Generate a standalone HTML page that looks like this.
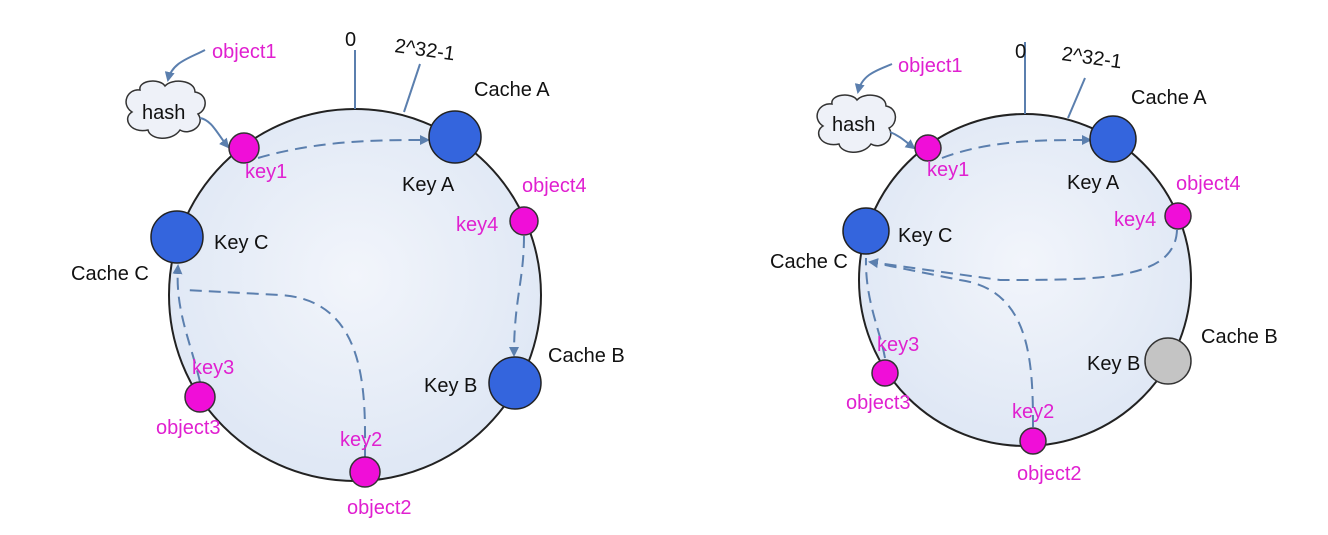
<!DOCTYPE html>
<html><head><meta charset="utf-8"><style>
html,body{margin:0;padding:0;background:#fff;}
svg text{font-family:"Liberation Sans",sans-serif;font-size:20px;}
.k{fill:#e020d0;}
.b{fill:#111;}
</style></head><body>
<svg width="1328" height="530" viewBox="0 0 1328 530" xmlns="http://www.w3.org/2000/svg">
<defs>
<marker id="ar" markerWidth="10" markerHeight="10" refX="8" refY="5" orient="auto" markerUnits="userSpaceOnUse">
<path d="M0,0 L10,5 L0,10 Z" fill="#5b7fae"/></marker>
<radialGradient id="g" cx="50%" cy="45%" r="60%"><stop offset="0" stop-color="#f2f5fb"/><stop offset="1" stop-color="#dde6f4"/></radialGradient>
</defs>

<!-- LEFT -->
<circle cx="355" cy="295" r="186" fill="url(#g)" stroke="#222" stroke-width="2"/>
<line x1="355" y1="50" x2="355" y2="109" stroke="#5b7fae" stroke-width="2"/>
<line x1="420" y1="64" x2="404" y2="112" stroke="#5b7fae" stroke-width="2"/>
<text x="345" y="46" class="b" font-size="23">0</text>
<text x="394" y="52" class="b" font-size="21" transform="rotate(8 394 52)">2^32-1</text>
<text x="474" y="96" class="b">Cache A</text>
<text x="212" y="58" class="k">object1</text>
<path d="M205,50 C190,58 172,62 168,80" fill="none" stroke="#5b7fae" stroke-width="2" marker-end="url(#ar)"/>
<path d="M140,90 C138,80 160,78 165,86 C172,78 195,80 195,92 C208,94 208,110 198,114 C206,125 190,136 180,130 C172,142 150,140 148,130 C130,134 122,118 132,112 C120,104 128,88 140,90 Z" fill="#eef1f8" stroke="#333" stroke-width="1.5"/>
<text x="142" y="119" class="b">hash</text>
<path d="M200,118 C212,120 218,135 228,147" fill="none" stroke="#5b7fae" stroke-width="2" marker-end="url(#ar)"/>
<path d="M258,158 C320,140 380,140 428,140" fill="none" stroke="#5b7fae" stroke-width="2" stroke-dasharray="12,7" marker-end="url(#ar)"/>
<path d="M524,236 C524,280 514,300 514,355" fill="none" stroke="#5b7fae" stroke-width="2" stroke-dasharray="12,7" marker-end="url(#ar)"/>
<path d="M200,382 C190,340 175,310 178,266" fill="none" stroke="#5b7fae" stroke-width="2" stroke-dasharray="12,7" marker-end="url(#ar)"/>
<path d="M365,457 C365,400 370,300 280,295 L185,290" fill="none" stroke="#5b7fae" stroke-width="2" stroke-dasharray="12,7"/>
<circle cx="244" cy="148" r="15" fill="#f00ed8" stroke="#333" stroke-width="1.5"/>
<circle cx="455" cy="137" r="26" fill="#3465dd" stroke="#222" stroke-width="1.5"/>
<circle cx="524" cy="221" r="14" fill="#f00ed8" stroke="#333" stroke-width="1.5"/>
<circle cx="177" cy="237" r="26" fill="#3465dd" stroke="#222" stroke-width="1.5"/>
<circle cx="515" cy="383" r="26" fill="#3465dd" stroke="#222" stroke-width="1.5"/>
<circle cx="200" cy="397" r="15" fill="#f00ed8" stroke="#333" stroke-width="1.5"/>
<circle cx="365" cy="472" r="15" fill="#f00ed8" stroke="#333" stroke-width="1.5"/>
<text x="245" y="178" class="k">key1</text>
<text x="402" y="191" class="b">Key A</text>
<text x="522" y="192" class="k">object4</text>
<text x="456" y="231" class="k">key4</text>
<text x="214" y="249" class="b">Key C</text>
<text x="71" y="280" class="b">Cache C</text>
<text x="548" y="362" class="b">Cache B</text>
<text x="424" y="392" class="b">Key B</text>
<text x="192" y="374" class="k">key3</text>
<text x="156" y="434" class="k">object3</text>
<text x="340" y="446" class="k">key2</text>
<text x="347" y="514" class="k">object2</text>

<!-- RIGHT -->
<circle cx="1025" cy="280" r="166" fill="url(#g)" stroke="#222" stroke-width="2"/>
<line x1="1025" y1="42" x2="1025" y2="114" stroke="#5b7fae" stroke-width="2"/>
<line x1="1085" y1="78" x2="1068" y2="118" stroke="#5b7fae" stroke-width="2"/>
<text x="1015" y="58" class="b" font-size="23">0</text>
<text x="1061" y="60" class="b" font-size="21" transform="rotate(8 1061 60)">2^32-1</text>
<text x="1131" y="104" class="b">Cache A</text>
<text x="898" y="72" class="k">object1</text>
<path d="M892,64 C878,70 862,74 858,92" fill="none" stroke="#5b7fae" stroke-width="2" marker-end="url(#ar)"/>
<path d="M832,104 C830,94 852,92 857,100 C864,92 886,94 886,106 C898,108 898,124 889,128 C896,139 881,150 871,144 C863,156 841,154 839,144 C821,148 813,132 823,126 C811,118 819,102 832,104 Z" fill="#eef1f8" stroke="#333" stroke-width="1.5"/>
<text x="832" y="131" class="b">hash</text>
<path d="M890,132 C900,136 906,142 914,148" fill="none" stroke="#5b7fae" stroke-width="2" marker-end="url(#ar)"/>
<path d="M942,158 C990,140 1040,140 1090,140" fill="none" stroke="#5b7fae" stroke-width="2" stroke-dasharray="12,7" marker-end="url(#ar)"/>
<path d="M1177,230 C1175,280 1100,280 1000,280 L870,262" fill="none" stroke="#5b7fae" stroke-width="2" stroke-dasharray="12,7" marker-end="url(#ar)"/>
<path d="M885,358 C880,330 865,300 866,258" fill="none" stroke="#5b7fae" stroke-width="2" stroke-dasharray="12,7"/>
<path d="M1033,427 C1033,360 1030,290 960,280 L870,262" fill="none" stroke="#5b7fae" stroke-width="2" stroke-dasharray="12,7"/>
<circle cx="928" cy="148" r="13" fill="#f00ed8" stroke="#333" stroke-width="1.5"/>
<circle cx="1113" cy="139" r="23" fill="#3465dd" stroke="#222" stroke-width="1.5"/>
<circle cx="1178" cy="216" r="13" fill="#f00ed8" stroke="#333" stroke-width="1.5"/>
<circle cx="866" cy="231" r="23" fill="#3465dd" stroke="#222" stroke-width="1.5"/>
<circle cx="1168" cy="361" r="23" fill="#c4c4c4" stroke="#333" stroke-width="1.5"/>
<circle cx="885" cy="373" r="13" fill="#f00ed8" stroke="#333" stroke-width="1.5"/>
<circle cx="1033" cy="441" r="13" fill="#f00ed8" stroke="#333" stroke-width="1.5"/>
<text x="927" y="176" class="k">key1</text>
<text x="1067" y="189" class="b">Key A</text>
<text x="1176" y="190" class="k">object4</text>
<text x="1114" y="226" class="k">key4</text>
<text x="898" y="242" class="b">Key C</text>
<text x="770" y="268" class="b">Cache C</text>
<text x="1201" y="343" class="b">Cache B</text>
<text x="1087" y="370" class="b">Key B</text>
<text x="877" y="351" class="k">key3</text>
<text x="846" y="409" class="k">object3</text>
<text x="1012" y="418" class="k">key2</text>
<text x="1017" y="480" class="k">object2</text>
</svg>
</body></html>
